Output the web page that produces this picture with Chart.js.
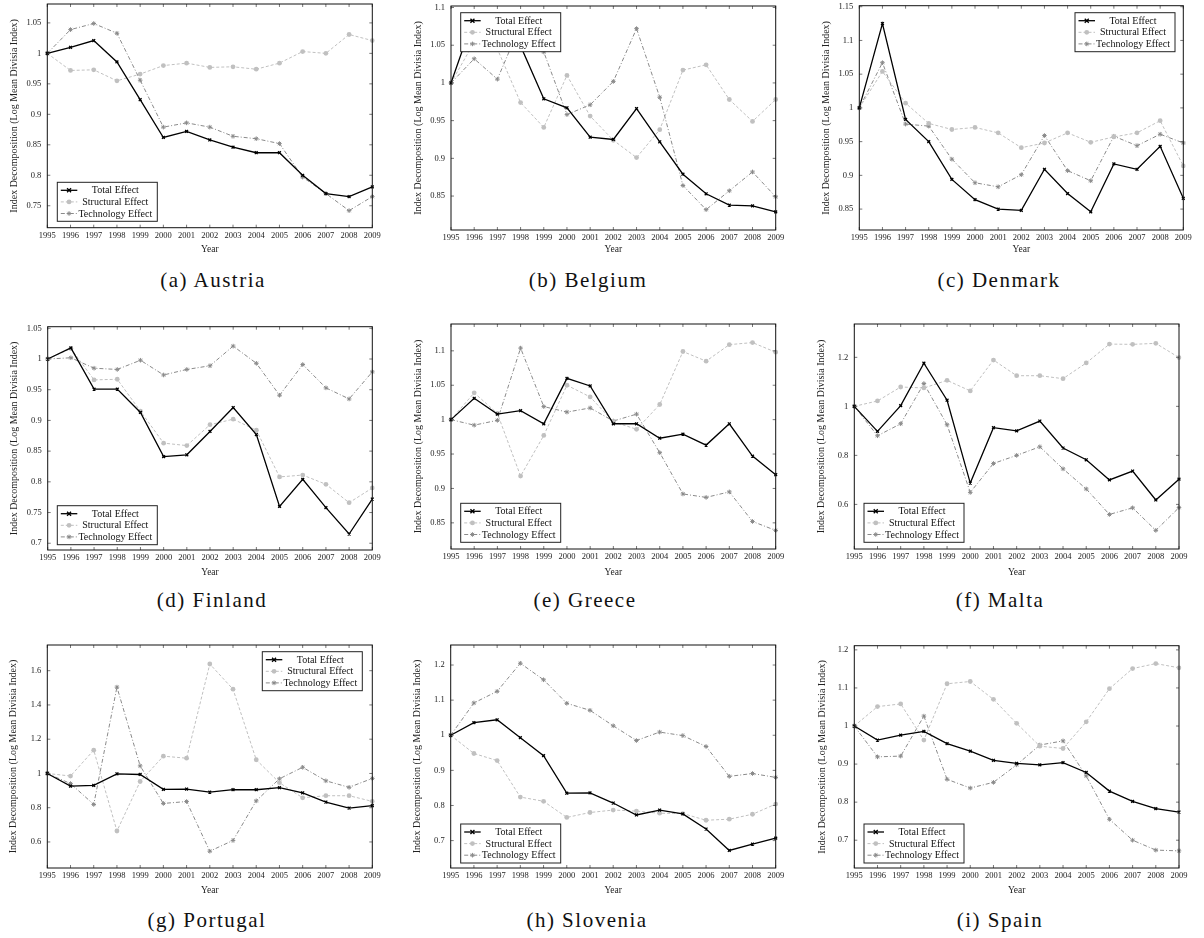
<!DOCTYPE html>
<html>
<head>
<meta charset="utf-8">
<script src="https://cdn.jsdelivr.net/npm/chart.js@4.4.0/dist/chart.umd.min.js"></script>
<style>
html,body{margin:0;padding:0;background:#fff;width:1204px;height:938px;overflow:hidden;position:relative}
canvas{position:absolute}
.cap{position:absolute;font-family:"Liberation Serif","Times New Roman",serif;font-size:21px;letter-spacing:1.5px;color:#111;transform:translate(-50%,-50%);white-space:nowrap;line-height:1}
</style>
</head>
<body>
<script>
// ---------------- DATA ----------------
const years = [1995,1996,1997,1998,1999,2000,2001,2002,2003,2004,2005,2006,2007,2008,2009];
const seriesLabels = ['Total Effect','Structural Effect','Technology Effect'];

const austriaTotal  = [1.0, 1.010, 1.021, 0.986, 0.924, 0.862, 0.872, 0.858, 0.846, 0.837, 0.837, 0.800, 0.770, 0.765, 0.781];
const austriaStruct = [1.0, 0.972, 0.973, 0.955, 0.966, 0.980, 0.984, 0.977, 0.978, 0.974, 0.984, 1.003, 1.000, 1.031, 1.021];
const austriaTech   = [1.0, 1.039, 1.049, 1.033, 0.956, 0.879, 0.886, 0.879, 0.864, 0.860, 0.852, 0.797, 0.770, 0.742, 0.765];
const austriaTicks  = [0.75, 0.8, 0.85, 0.9, 0.95, 1, 1.05];

const belgiumTotal  = [1.0, 1.088, 1.050, 1.049, 0.979, 0.967, 0.928, 0.925, 0.966, 0.922, 0.879, 0.853, 0.838, 0.837, 0.829];
const belgiumStruct = [1.0, 1.054, 1.045, 0.974, 0.941, 1.010, 0.956, 0.924, 0.901, 0.938, 1.017, 1.024, 0.978, 0.949, 0.978];
const belgiumTech   = [1.0, 1.032, 1.005, 1.077, 1.041, 0.958, 0.971, 1.002, 1.072, 0.981, 0.864, 0.832, 0.857, 0.882, 0.849];
const belgiumTicks  = [0.85, 0.9, 0.95, 1, 1.05, 1.1];

const denmarkTotal  = [1.0, 1.125, 0.983, 0.950, 0.894, 0.864, 0.850, 0.848, 0.909, 0.873, 0.846, 0.917, 0.909, 0.943, 0.866];
const denmarkStruct = [1.0, 1.054, 1.007, 0.977, 0.968, 0.971, 0.963, 0.941, 0.948, 0.963, 0.949, 0.957, 0.963, 0.981, 0.914];
const denmarkTech   = [1.0, 1.067, 0.976, 0.973, 0.924, 0.889, 0.883, 0.901, 0.959, 0.907, 0.892, 0.958, 0.944, 0.961, 0.948];
const denmarkTicks  = [0.85, 0.9, 0.95, 1, 1.05, 1.1, 1.15];

const finlandTotal  = [1.0, 1.018, 0.951, 0.951, 0.913, 0.841, 0.844, 0.882, 0.921, 0.877, 0.760, 0.804, 0.758, 0.715, 0.772];
const finlandStruct = [1.0, 1.017, 0.966, 0.967, 0.915, 0.863, 0.859, 0.893, 0.902, 0.884, 0.808, 0.811, 0.796, 0.766, 0.790];
const finlandTech   = [1.0, 1.002, 0.985, 0.983, 0.998, 0.974, 0.983, 0.989, 1.021, 0.993, 0.941, 0.991, 0.953, 0.935, 0.979];
const finlandTicks  = [0.7, 0.75, 0.8, 0.85, 0.9, 0.95, 1, 1.05];

const greeceTotal   = [1.0, 1.031, 1.008, 1.013, 0.994, 1.060, 1.049, 0.994, 0.994, 0.973, 0.979, 0.963, 0.994, 0.947, 0.920];
const greeceStruct  = [1.0, 1.039, 1.009, 0.918, 0.977, 1.050, 1.033, 0.997, 0.986, 1.022, 1.099, 1.085, 1.109, 1.112, 1.098];
const greeceTech    = [1.0, 0.992, 0.999, 1.104, 1.019, 1.011, 1.017, 0.998, 1.008, 0.952, 0.892, 0.887, 0.895, 0.852, 0.839];
const greeceTicks   = [0.85, 0.9, 0.95, 1, 1.05, 1.1];

const maltaTotal    = [1.0, 0.898, 1.003, 1.176, 1.025, 0.687, 0.913, 0.900, 0.940, 0.830, 0.782, 0.700, 0.736, 0.618, 0.703];
const maltaStruct   = [1.0, 1.022, 1.079, 1.075, 1.106, 1.063, 1.189, 1.125, 1.125, 1.113, 1.177, 1.254, 1.253, 1.257, 1.199];
const maltaTech     = [1.0, 0.880, 0.929, 1.093, 0.925, 0.649, 0.767, 0.800, 0.835, 0.745, 0.663, 0.559, 0.586, 0.494, 0.587];
const maltaTicks    = [0.6, 0.8, 1, 1.2];

const portugalTotal  = [1.0, 0.926, 0.930, 0.998, 0.994, 0.907, 0.909, 0.891, 0.905, 0.905, 0.917, 0.887, 0.833, 0.798, 0.812];
const portugalStruct = [1.0, 0.985, 1.136, 0.664, 0.953, 1.101, 1.089, 1.639, 1.492, 1.080, 0.946, 0.858, 0.870, 0.870, 0.837];
const portugalTech   = [1.0, 0.941, 0.819, 1.504, 1.044, 0.825, 0.836, 0.546, 0.609, 0.840, 0.969, 1.036, 0.957, 0.919, 0.971];
const portugalTicks  = [0.6, 0.8, 1, 1.2, 1.4, 1.6];

const sloveniaTotal  = [1.0, 1.036, 1.044, 0.993, 0.942, 0.835, 0.836, 0.807, 0.773, 0.787, 0.776, 0.733, 0.672, 0.690, 0.707];
const sloveniaStruct = [1.0, 0.948, 0.928, 0.824, 0.812, 0.766, 0.780, 0.787, 0.784, 0.778, 0.777, 0.758, 0.761, 0.775, 0.804];
const sloveniaTech   = [1.0, 1.092, 1.125, 1.205, 1.158, 1.091, 1.071, 1.027, 0.985, 1.009, 0.999, 0.968, 0.883, 0.891, 0.880];
const sloveniaTicks  = [0.7, 0.8, 0.9, 1, 1.1, 1.2];

const spainTotal  = [1.0, 0.963, 0.976, 0.986, 0.954, 0.934, 0.910, 0.902, 0.898, 0.904, 0.878, 0.829, 0.802, 0.783, 0.774];
const spainStruct = [1.0, 1.051, 1.058, 0.963, 1.111, 1.117, 1.070, 1.007, 0.947, 0.941, 1.011, 1.098, 1.151, 1.164, 1.153];
const spainTech   = [1.0, 0.919, 0.921, 1.026, 0.860, 0.837, 0.852, 0.898, 0.950, 0.961, 0.869, 0.755, 0.700, 0.674, 0.672];
const spainTicks  = [0.7, 0.8, 0.9, 1, 1.1, 1.2];

// ---------------- LAYOUT / STYLE ----------------
const SERIF = '"Liberation Serif", "Times New Roman", serif';
Chart.defaults.font.family = SERIF;
Chart.defaults.color = '#222';

const styles = [
  {color:'#000000', dash:[],          width:1.3, point:'crossRot', r:2.0, pbw:1.3},
  {color:'#c0c0c0', dash:[3,2],       width:1.0, point:'circle',   r:2.4, pbw:0},
  {color:'#8a8a8a', dash:[4,2,1,2],   width:1.0, point:'star',     r:2.3, pbw:1.0}
];

const panels = [
  {caption:'(a) Austria',  series:[austriaTotal, austriaStruct, austriaTech],   ticks:austriaTicks,  ymin:0.714, ymax:1.081, L:0,   T:0,   plot:[47.3,4,372.3,227.7],  ytx:14,    yearY:249.5, legend:['ll',10,6.4],  cap:[213,280]},
  {caption:'(b) Belgium',  series:[belgiumTotal, belgiumStruct, belgiumTech],   ticks:belgiumTicks,  ymin:0.805, ymax:1.102, L:400, T:0,   plot:[451,6,775.7,230],     ytx:418.3, yearY:249.5, legend:['ul',9.7,6.7], cap:[588,280]},
  {caption:'(c) Denmark',  series:[denmarkTotal, denmarkStruct, denmarkTech],   ticks:denmarkTicks,  ymin:0.819, ymax:1.1515,L:800, T:0,   plot:[859.3,5.7,1183.3,230],ytx:826,   yearY:249,   legend:['ur',8.3,7],   cap:[999,280]},
  {caption:'(d) Finland',  series:[finlandTotal, finlandStruct, finlandTech],   ticks:finlandTicks,  ymin:0.689, ymax:1.0526,L:0,   T:310, plot:[47.7,326.7,372.3,550],ytx:14,    yearY:572,   legend:['ll',9.6,5.3], cap:[212,600]},
  {caption:'(e) Greece',   series:[greeceTotal, greeceStruct, greeceTech],      ticks:greeceTicks,   ymin:0.812, ymax:1.139, L:400, T:310, plot:[451,324,775.7,549],   ytx:418,   yearY:572,   legend:['ll',9.7,6.7], cap:[585,600]},
  {caption:'(f) Malta',    series:[maltaTotal, maltaStruct, maltaTech],         ticks:maltaTicks,    ymin:0.418, ymax:1.336, L:800, T:310, plot:[854.3,324,1179,549],  ytx:821.7, yearY:572,   legend:['ll',9.7,6.7], cap:[1000,600]},
  {caption:'(g) Portugal', series:[portugalTotal, portugalStruct, portugalTech],ticks:portugalTicks, ymin:0.448, ymax:1.75,  L:0,   T:630, plot:[47.3,645,372.3,868],  ytx:13.3,  yearY:890,   legend:['ur',10,6.7],  cap:[207,920]},
  {caption:'(h) Slovenia', series:[sloveniaTotal, sloveniaStruct, sloveniaTech],ticks:sloveniaTicks, ymin:0.622, ymax:1.257, L:400, T:630, plot:[450.7,645,775.7,868], ytx:417,   yearY:890,   legend:['ll',10,5],    cap:[587,920]},
  {caption:'(i) Spain',    series:[spainTotal, spainStruct, spainTech],         ticks:spainTicks,    ymin:0.627, ymax:1.211, L:800, T:630, plot:[854.3,645.7,1179,868],ytx:822.7, yearY:890,   legend:['ll',9.7,5],   cap:[1000,920]}
];

function drawMarker(ctx, style, x, y, r, color) {
  ctx.save();
  ctx.setLineDash([]);
  ctx.strokeStyle = color; ctx.fillStyle = color;
  if (style === 'circle') {
    ctx.beginPath(); ctx.arc(x, y, r, 0, Math.PI*2); ctx.fill();
  } else if (style === 'crossRot') {
    ctx.lineWidth = 1.3; ctx.beginPath();
    ctx.moveTo(x-r, y-r); ctx.lineTo(x+r, y+r); ctx.moveTo(x-r, y+r); ctx.lineTo(x+r, y-r); ctx.stroke();
  } else {
    ctx.lineWidth = 1; ctx.beginPath();
    for (let k = 0; k < 4; k++) {
      const a = k*Math.PI/4;
      ctx.moveTo(x + r*Math.cos(a), y + r*Math.sin(a)); ctx.lineTo(x - r*Math.cos(a), y - r*Math.sin(a));
    }
    ctx.stroke();
  }
  ctx.restore();
}

function makeDecor(p) {
  return {
    id: 'decor',
    afterDraw(chart) {
      const ctx = chart.ctx, a = chart.chartArea;
      const xs = chart.scales.x, ys = chart.scales.y;
      ctx.save();
      ctx.setLineDash([]);
      // inward ticks on all four sides
      ctx.strokeStyle = '#555'; ctx.lineWidth = 0.8;
      const tl = 3;
      ctx.beginPath();
      xs.ticks.forEach((t, i) => {
        const px = xs.getPixelForTick(i);
        ctx.moveTo(px, a.bottom); ctx.lineTo(px, a.bottom - tl);
        ctx.moveTo(px, a.top); ctx.lineTo(px, a.top + tl);
      });
      ys.ticks.forEach(t => {
        const py = ys.getPixelForValue(t.value);
        ctx.moveTo(a.left, py); ctx.lineTo(a.left + tl, py);
        ctx.moveTo(a.right, py); ctx.lineTo(a.right - tl, py);
      });
      ctx.stroke();
      // frame
      ctx.strokeStyle = '#111'; ctx.lineWidth = 1;
      ctx.strokeRect(a.left, a.top, a.right - a.left, a.bottom - a.top);
      // legend box
      const w = 100, h = 39;
      const [corner, dx, dy] = p.legend;
      let bx, by;
      if (corner === 'll') { bx = a.left + dx; by = a.bottom - dy - h; }
      else if (corner === 'ul') { bx = a.left + dx; by = a.top + dy; }
      else { bx = a.right - dx - w; by = a.top + dy; }
      ctx.fillStyle = '#fff';
      ctx.fillRect(bx, by, w, h);
      ctx.strokeStyle = '#222'; ctx.lineWidth = 1;
      ctx.strokeRect(bx, by, w, h);
      ctx.font = '10px ' + SERIF;
      ctx.textAlign = 'center'; ctx.textBaseline = 'middle';
      seriesLabels.forEach((lab, k) => {
        const s = styles[k];
        const ry = by + 8 + k*11.6;
        ctx.save();
        ctx.strokeStyle = s.color; ctx.lineWidth = s.width; ctx.setLineDash(s.dash);
        ctx.beginPath(); ctx.moveTo(bx + 3.5, ry); ctx.lineTo(bx + 20, ry); ctx.stroke();
        ctx.restore();
        drawMarker(ctx, s.point, bx + 11.75, ry, s.r, s.color);
        ctx.fillStyle = '#111';
        ctx.fillText(lab, bx + 58, ry + 0.5);
      });
      ctx.restore();
    }
  };
}

panels.forEach(p => {
  const [pl, pt, pr, pb] = p.plot;
  const W = (p.L === 800) ? 404 : 400;
  const H = Math.ceil(p.yearY + 7 - p.T);
  const cv = document.createElement('canvas');
  cv.width = W; cv.height = H;
  cv.style.left = p.L + 'px'; cv.style.top = p.T + 'px';
  cv.style.width = W + 'px'; cv.style.height = H + 'px';
  document.body.appendChild(cv);

  const yTitleSize = 10, xTitleSize = 9.5;
  const yLH = yTitleSize * 1.2, xLH = xTitleSize * 1.2;
  const yW = pl - p.L;
  const xH = (p.T + H) - pb;
  const padTop = pt - p.T;
  const padRight = (p.L + W) - pr;
  const yTitlePad = p.ytx - p.L - yLH/2;
  const xTitlePad = (p.T + H) - p.yearY - xLH/2;
  const tickArr = p.ticks;

  new Chart(cv, {
    type: 'line',
    data: {
      labels: years,
      datasets: p.series.map((arr, k) => ({
        label: seriesLabels[k],
        data: arr,
        borderColor: styles[k].color,
        backgroundColor: styles[k].color,
        borderWidth: styles[k].width,
        borderDash: styles[k].dash,
        pointStyle: styles[k].point,
        pointRadius: styles[k].r,
        pointBorderWidth: styles[k].pbw,
        pointBackgroundColor: styles[k].color,
        pointBorderColor: styles[k].color,
        pointHoverRadius: styles[k].r,
        tension: 0,
        fill: false
      }))
    },
    options: {
      responsive: false,
      animation: false,
      devicePixelRatio: 1,
      events: [],
      layout: {padding: {left: 0, top: padTop, right: padRight, bottom: 0}},
      plugins: {legend: {display: false}, tooltip: {enabled: false}},
      scales: {
        x: {
          type: 'category', offset: false,
          grid: {display: false, drawTicks: false}, border: {display: false},
          ticks: {autoSkip: false, maxRotation: 0, minRotation: 0, padding: 3, font: {size: 8.5}, color: '#222'},
          title: {display: true, text: 'Year', font: {size: xTitleSize}, color: '#222', padding: {top: 0, bottom: xTitlePad}},
          afterFit: s => { s.height = xH; s.paddingLeft = 0; s.paddingRight = 0; }
        },
        y: {
          type: 'linear', min: p.ymin, max: p.ymax,
          grid: {display: false, drawTicks: false}, border: {display: false},
          afterBuildTicks: s => { s.ticks = tickArr.map(v => ({value: v})); },
          ticks: {padding: 6, font: {size: 8.5}, color: '#222', callback: v => String(+(+v).toFixed(2))},
          title: {display: true, text: 'Index Decomposition (Log Mean Divisia Index)', font: {size: yTitleSize}, color: '#222', padding: {top: yTitlePad, bottom: 0}},
          afterFit: s => { s.width = yW; s.paddingTop = 0; s.paddingBottom = 0; }
        }
      }
    },
    plugins: [makeDecor(p)]
  });

  const cap = document.createElement('div');
  cap.className = 'cap';
  cap.textContent = p.caption;
  cap.style.left = p.cap[0] + 'px';
  cap.style.top = p.cap[1] + 'px';
  document.body.appendChild(cap);
});
</script>
</body>
</html>
